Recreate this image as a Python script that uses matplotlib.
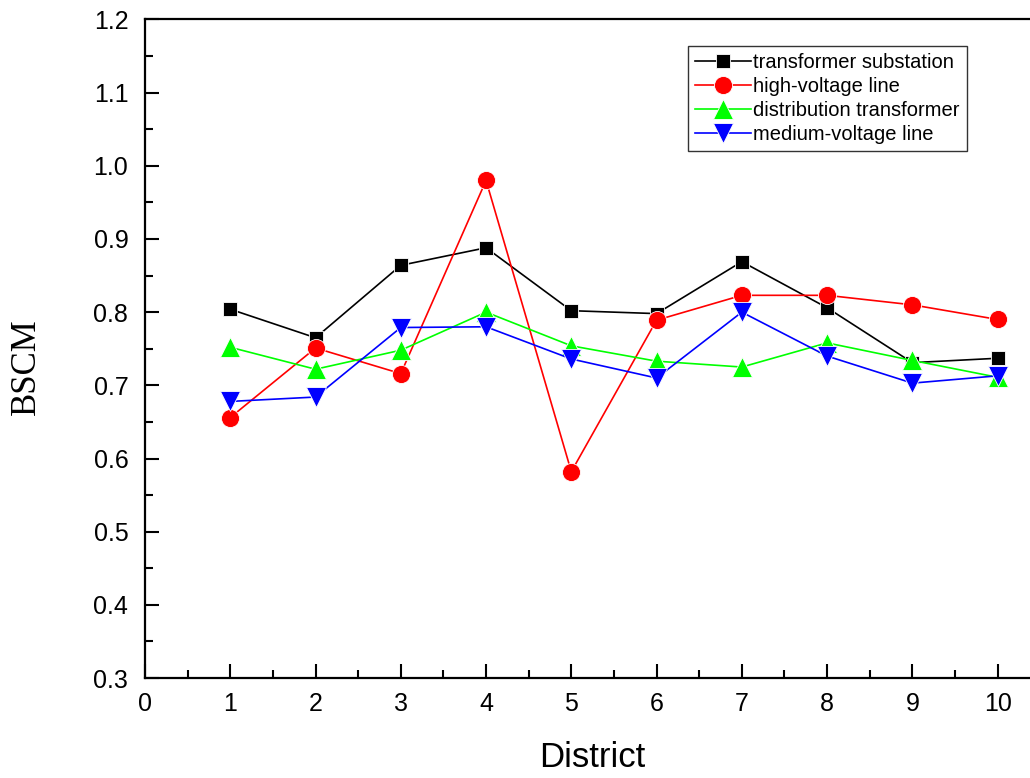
import numpy as np
import matplotlib
matplotlib.use('Agg')
import matplotlib.pyplot as plt
from matplotlib.ticker import MultipleLocator

# Datos
district = [1, 2, 3, 4, 5, 6, 7, 8, 9, 10]
substation = [0.804, 0.765, 0.864, 0.888, 0.802, 0.798, 0.869, 0.806, 0.731, 0.737]
hv_line = [0.656, 0.751, 0.716, 0.980, 0.582, 0.789, 0.823, 0.823, 0.810, 0.790]
dist_transformer = [0.752, 0.722, 0.748, 0.800, 0.754, 0.733, 0.725, 0.758, 0.734, 0.711]
mv_line = [0.678, 0.684, 0.779, 0.780, 0.736, 0.710, 0.800, 0.740, 0.703, 0.713]

plt.rcParams['font.family'] = ['Liberation Sans', 'DejaVu Sans']

fig = plt.figure(figsize=(10.3, 7.78), dpi=100)
ax = fig.add_axes([0.1408, 0.1285, 0.8592, 0.8465])

ax.plot(district, substation, color='black', marker='s', ms=10.5, lw=1.2,
        mec='white', mew=0.6, label='transformer substation')
ax.plot(district, hv_line, color='#ff0000', marker='o', ms=13, lw=1.2,
        mec='white', mew=0.6, label='high-voltage line')
ax.plot(district, dist_transformer, color='#00ff00', marker='^', ms=14, lw=1.2,
        mec='white', mew=0.6, label='distribution transformer')
ax.plot(district, mv_line, color='#0000ff', marker='v', ms=14, lw=1.2,
        mec='white', mew=0.6, label='medium-voltage line')

ax.set_xlim(0, 10.38)
ax.set_ylim(0.3, 1.2)
ax.xaxis.set_major_locator(MultipleLocator(1))
ax.xaxis.set_minor_locator(MultipleLocator(0.5))
ax.yaxis.set_major_locator(MultipleLocator(0.1))
ax.yaxis.set_minor_locator(MultipleLocator(0.05))
ax.yaxis.set_major_formatter(plt.FormatStrFormatter('%.1f'))

ax.spines['right'].set_visible(False)
for s in ['left', 'bottom', 'top']:
    ax.spines[s].set_linewidth(1.6)

ax.tick_params(which='major', direction='in', length=10, width=1.5, labelsize=18, pad=10)
ax.tick_params(which='minor', direction='in', length=6, width=1.5)
ax.tick_params(axis='y', pad=12)

ax.set_xlabel('District', fontsize=25)
ax.xaxis.set_label_coords(0.505, -0.095)
ax.set_ylabel('BSCM', fontsize=25, family=['Liberation Serif', 'DejaVu Serif'])
ax.yaxis.set_label_coords(-0.115, 0.472)

leg = ax.legend(loc='upper left', bbox_to_anchor=(0.6136, 0.9596), borderaxespad=0,
                fontsize=14.5, frameon=True, fancybox=False, framealpha=1,
                edgecolor='#333333', handlelength=2.8, handletextpad=0.1,
                borderpad=0.35, labelspacing=0.25)
leg.get_frame().set_linewidth(1.0)

fig.savefig('out.png', dpi=100)
